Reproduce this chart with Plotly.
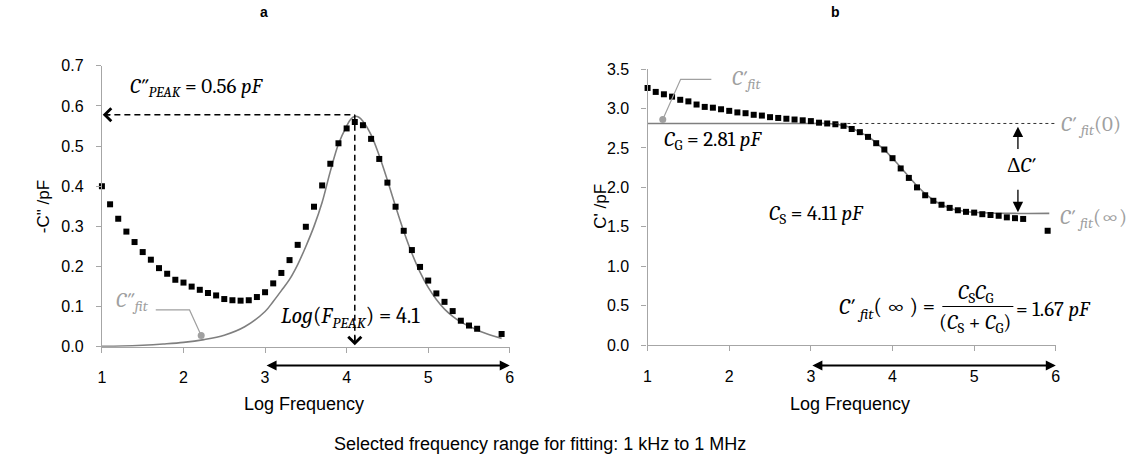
import plotly.graph_objects as go

# ---------------- data ----------------
logf_a = [1.0, 1.1, 1.2, 1.3, 1.4, 1.5, 1.6, 1.7, 1.8, 1.9,
          2.0, 2.1, 2.2, 2.3, 2.4, 2.5, 2.6, 2.7, 2.8, 2.9,
          3.0, 3.1, 3.2, 3.3, 3.4, 3.5, 3.6, 3.7, 3.8, 3.9,
          4.0, 4.1, 4.2, 4.3, 4.4, 4.5, 4.6, 4.7, 4.8, 4.9,
          5.0, 5.1, 5.2, 5.3, 5.4, 5.5, 5.6, 5.9]
c2_data = [0.400, 0.355, 0.319, 0.287, 0.261, 0.236, 0.217, 0.196, 0.182, 0.167,
           0.160, 0.150, 0.142, 0.134, 0.128, 0.119, 0.116, 0.115, 0.116, 0.124,
           0.136, 0.158, 0.184, 0.216, 0.254, 0.299, 0.349, 0.402, 0.456, 0.507,
           0.544, 0.560, 0.552, 0.518, 0.468, 0.409, 0.349, 0.289, 0.241, 0.199,
           0.165, 0.133, 0.112, 0.089, 0.065, 0.053, 0.045, 0.032]

logf_fit_a = [1.0, 1.25, 1.5, 1.75, 2.0, 2.25, 2.5, 2.75, 3.0, 3.1, 3.2, 3.3, 3.4,
              3.5, 3.6, 3.7, 3.8, 3.9, 4.0, 4.05, 4.1, 4.15, 4.2, 4.3, 4.4, 4.5,
              4.6, 4.7, 4.8, 4.9, 5.0, 5.1, 5.2, 5.3, 5.4, 5.5, 5.6, 5.7, 5.8, 5.9]
c2_fit = [0.001, 0.002, 0.004, 0.007, 0.011, 0.018, 0.029, 0.050, 0.088, 0.113, 0.140,
          0.168, 0.205, 0.250, 0.300, 0.360, 0.437, 0.505, 0.550, 0.567, 0.574, 0.572,
          0.562, 0.528, 0.476, 0.415, 0.350, 0.288, 0.233, 0.186, 0.148, 0.118, 0.094,
          0.076, 0.062, 0.051, 0.042, 0.034, 0.027, 0.021]

logf_b = logf_a
c1_data = [3.26, 3.21, 3.18, 3.15, 3.11, 3.09, 3.05, 3.02, 3.01, 2.99,
           2.97, 2.95, 2.94, 2.92, 2.91, 2.89, 2.88, 2.87, 2.86, 2.85,
           2.84, 2.82, 2.81, 2.80, 2.78, 2.74, 2.70, 2.64, 2.56, 2.48,
           2.37, 2.24, 2.12, 2.00, 1.90, 1.83, 1.78, 1.74, 1.71, 1.69,
           1.68, 1.66, 1.65, 1.64, 1.62, 1.61, 1.60, 1.45]

logf_fit_b = [1.0, 2.0, 3.0, 3.2, 3.3, 3.4, 3.5, 3.6, 3.7, 3.8, 3.9, 4.0, 4.1, 4.2,
              4.3, 4.4, 4.5, 4.6, 4.7, 4.8, 4.9, 5.0, 5.2, 5.5, 5.92]
c1_fit = [2.81, 2.81, 2.81, 2.81, 2.80, 2.785, 2.75, 2.70, 2.645, 2.565, 2.475, 2.37,
          2.255, 2.135, 2.02, 1.92, 1.84, 1.78, 1.74, 1.71, 1.695, 1.685, 1.675, 1.67, 1.67]

x_ticks = [1, 2, 3, 4, 5, 6]
c_peak = 0.578
log_f_peak = 4.1
c_g = 2.81
c_inf = 1.67
fit_range = [3, 6]

# ---------------- styles ----------------
SANS = "Arial, Liberation Sans, sans-serif"
SERIF = "Cambria, Liberation Serif, DejaVu Serif, serif"
AXIS_GREY = "#a6a6a6"
CURVE_GREY = "#7f7f7f"
LABEL_GREY = "#a0a0a0"
W, H = 1138, 464
MATH = 21
TS = "\u2009"  # thin space

fig = go.Figure()

fig.add_trace(go.Scatter(x=logf_fit_a, y=c2_fit, mode="lines", line=dict(color=CURVE_GREY, width=1.6, shape="spline"),
                         xaxis="x", yaxis="y", cliponaxis=False, hoverinfo="skip"))
fig.add_trace(go.Scatter(x=logf_a, y=c2_data, mode="markers", marker=dict(symbol="square", size=6, color="black"),
                         xaxis="x", yaxis="y", cliponaxis=False))
fig.add_trace(go.Scatter(x=logf_fit_b, y=c1_fit, mode="lines", line=dict(color=CURVE_GREY, width=1.6, shape="spline"),
                         xaxis="x2", yaxis="y2", cliponaxis=False, hoverinfo="skip"))
fig.add_trace(go.Scatter(x=logf_b, y=c1_data, mode="markers", marker=dict(symbol="square", size=6, color="black"),
                         xaxis="x2", yaxis="y2", cliponaxis=False))

# leader dots
fig.add_trace(go.Scatter(x=[2.217], y=[0.028], mode="markers", marker=dict(size=7, color=LABEL_GREY),
                         xaxis="x", yaxis="y", cliponaxis=False))
fig.add_trace(go.Scatter(x=[1.186], y=[2.86], mode="markers", marker=dict(size=7, color=LABEL_GREY),
                         xaxis="x2", yaxis="y2", cliponaxis=False))
# leader lines
fig.add_trace(go.Scatter(x=[1.66, 2.074, 2.217], y=[0.092, 0.092, 0.028], mode="lines",
                         line=dict(color=LABEL_GREY, width=1.2), xaxis="x", yaxis="y", cliponaxis=False))
fig.add_trace(go.Scatter(x=[1.781, 1.405, 1.186], y=[3.37, 3.37, 2.86], mode="lines",
                         line=dict(color=LABEL_GREY, width=1.2), xaxis="x2", yaxis="y2", cliponaxis=False))

axis_common = dict(showgrid=False, zeroline=False, showline=True, linecolor=AXIS_GREY, linewidth=1.3,
                   ticks="outside", ticklen=5, tickcolor=AXIS_GREY, tickwidth=1.3,
                   tickfont=dict(family=SANS, size=16, color="black"))

fig.update_layout(
    width=W, height=H, margin=dict(l=0, r=0, t=0, b=0),
    paper_bgcolor="white", plot_bgcolor="white", showlegend=False,
    xaxis=dict(domain=[98.7 / W, 509.8 / W], range=[1, 6], tickvals=x_ticks, anchor="y",
               ticklabelstandoff=11, **axis_common),
    yaxis=dict(domain=[1 - 351.7 / H, 1 - 60 / H], range=[0, 0.7], dtick=0.1, tickformat=".1f", anchor="x",
               ticklabelstandoff=9, **axis_common),
    xaxis2=dict(domain=[648.7 / W, 1060.2 / W], range=[1, 6], tickvals=x_ticks, anchor="y2",
                ticklabelstandoff=11, **axis_common),
    yaxis2=dict(domain=[1 - 350 / H, 1 - 63.35 / H], range=[0, 3.5], dtick=0.5, tickformat=".1f", anchor="x2",
                ticklabelstandoff=9, **axis_common),
)

shapes = []
# panel a dashed guides
shapes.append(dict(type="line", xref="x", yref="y", x0=1.03, x1=log_f_peak, y0=c_peak, y1=c_peak,
                   line=dict(color="black", width=1.5, dash="6px,4px")))
shapes.append(dict(type="line", xref="x", yref="y", x0=log_f_peak, x1=log_f_peak, y0=c_peak, y1=0.012,
                   line=dict(color="black", width=1.5, dash="6px,4px")))
# panel b dashed C'(0) line
shapes.append(dict(type="line", xref="x2", yref="y2", x0=3.3, x1=6.0, y0=c_g, y1=c_g,
                   line=dict(color="#333333", width=1, dash="3px,3px")))
# fraction bar
shapes.append(dict(type="line", xref="x2", yref="y2", x0=4.61, x1=5.48, y0=0.49, y1=0.49,
                   line=dict(color="black", width=1.2)))
fig.update_layout(shapes=shapes)

ann = []
def txt(text, x, y, xref="x", yref="y", size=MATH, color="black", family=SERIF, xanchor="center", **kw):
    ann.append(dict(text=text, x=x, y=y, xref=xref, yref=yref, showarrow=False, xanchor=xanchor,
                    yanchor="middle", font=dict(family=family, size=size, color=color), **kw))

def arrow(x, y, ax, ay, xref, yref, axref, ayref, head=2, width=1.5, size=1.0, side="end", color="black"):
    ann.append(dict(text="", x=x, y=y, ax=ax, ay=ay, xref=xref, yref=yref, axref=axref, ayref=ayref,
                    showarrow=True, arrowhead=head, startarrowhead=head, arrowwidth=width,
                    arrowsize=size, startarrowsize=size, arrowside=side, arrowcolor=color,
                    standoff=0, startstandoff=0))

# panel a texts
txt("<i>C″<sub>PEAK</sub></i> = 0.56 <i>pF</i>", 2.165, 0.645)
txt("<i>Log</i>(<i>F<sub>PEAK</sub></i>) = 4.1", 4.05, 0.072, size=22)
txt("<i>C″<sub>fit</sub></i>", 1.38, 0.112, color=LABEL_GREY)
# chevrons on dashed guides
arrow(1.01, c_peak, 1.12, c_peak, "x", "y", "x", "y", head=4, width=1.4, size=1.8)
arrow(log_f_peak, 0.004, log_f_peak, 0.03, "x", "y", "x", "y", head=4, width=1.4, size=1.8)
# fitting range arrows (below the x axes, in paper height)
y_range_arrow = 1 - 371 / H
arrow(fit_range[1], y_range_arrow, fit_range[0], 0, "x", "paper", "x", "pixel",
      head=2, width=2, size=1.0, side="end+start")
arrow(fit_range[1], y_range_arrow, fit_range[0], 0, "x2", "paper", "x2", "pixel",
      head=2, width=2, size=1.0, side="end+start")

# panel b texts
txt("<i>C′<sub>fit</sub></i>", 2.207, 3.37, xref="x2", yref="y2", color=LABEL_GREY)
txt("<i>C</i><sub>G</sub> = 2.81 <i>pF</i>", 1.806, 2.60, xref="x2", yref="y2")
txt("<i>C</i><sub>S</sub> = 4.11 <i>pF</i>", 3.075, 1.66, xref="x2", yref="y2")
txt("Δ<i>C′</i>", 5.575, 2.28, xref="x2", yref="y2")
arrow(5.536, 2.77, 5.536, 2.466, "x2", "y2", "x2", "y2", head=2, width=1.3, size=1.6)
arrow(5.536, 1.685, 5.536, 1.99, "x2", "y2", "x2", "y2", head=2, width=1.3, size=1.6)
txt("<i>C′ <sub>fit</sub></i>(" + TS + "∞" + TS + ") =", 4.55, 0.46, xref="x2", yref="y2", xanchor="right", size=22)
txt("<i>C</i><sub>S</sub><i>C</i><sub>G</sub>", 5.015, 0.65, xref="x2", yref="y2")
txt("(<i>C</i><sub>S</sub> + <i>C</i><sub>G</sub>)", 5.015, 0.28, xref="x2", yref="y2")
txt("= 1.67 <i>pF</i>", 5.49, 0.46, xref="x2", yref="y2", xanchor="left")

# labels to the right of panel b (outside the axis range -> paper coords)
def ptxt(text, px, py, size=17, bold=False, angle=0, family=SANS, color="black", xanchor="center"):
    ann.append(dict(text=("<b>%s</b>" % text) if bold else text, x=px / W, y=1 - py / H, xref="paper", yref="paper",
                    showarrow=False, xanchor=xanchor, yanchor="middle", textangle=angle,
                    font=dict(family=family, size=size, color=color)))

ptxt("<i>C′ <sub>fit</sub></i>(0)", 1063, 122, size=MATH, family=SERIF, color=LABEL_GREY, xanchor="left")
ptxt("<i>C′ <sub>fit</sub></i>(∞)", 1062, 219, size=MATH, family=SERIF, color=LABEL_GREY, xanchor="left")

# axis titles, panel letters, caption
ptxt("Log Frequency", 302, 411, size=18)
ptxt("Log Frequency", 853, 411, size=18)
ptxt('-C" /pF', 40, 206, angle=-90)
ptxt("C' /pF", 601, 206, angle=-90)
ptxt("a", 262, 4, size=14, bold=True)
ptxt("b", 838, 4, size=14, bold=True)
ptxt("Selected frequency range for fitting: 1 kHz to 1 MHz", 540, 453, size=18)

fig.update_layout(annotations=ann)
fig.write_html("out.html")
